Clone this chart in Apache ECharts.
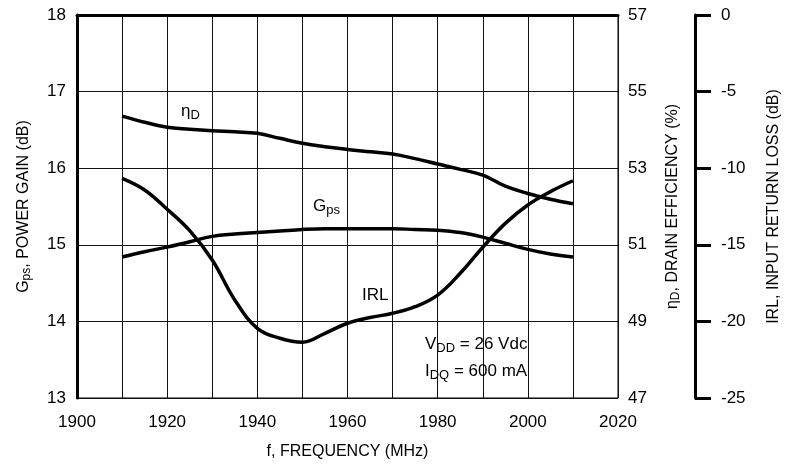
<!DOCTYPE html>
<html>
<head>
<meta charset="utf-8">
<script src="https://cdn.jsdelivr.net/npm/echarts@6/dist/echarts.min.js"></script>
<style>
  html, body { margin: 0; padding: 0; background: #fff; }
  #chart { width: 790px; height: 470px; }
</style>
</head>
<body>
<div id="chart"></div>
<script>
'use strict';

// frequency points (MHz)
const freq = [1910, 1915, 1920, 1925, 1930, 1935, 1940, 1945, 1950, 1955, 1960, 1965,
    1970, 1975, 1980, 1985, 1990, 1995, 2000, 2005, 2010];

// G_ps, power gain (dB)
const gps = [14.84, 14.91, 14.97, 15.04, 15.11, 15.14, 15.16, 15.18, 15.20, 15.21, 15.21, 15.21,
    15.21, 15.20, 15.19, 15.16, 15.10, 15.02, 14.94, 14.88, 14.84];

// eta_D, drain efficiency (%)
const eff = [54.36, 54.20, 54.07, 54.02, 53.98, 53.95, 53.91, 53.78, 53.65, 53.56, 53.49, 53.43,
    53.37, 53.25, 53.11, 52.97, 52.82, 52.53, 52.34, 52.19, 52.07];

// IRL, input return loss (dB)
const irl = [-10.66, -11.42, -12.68, -14.08, -15.99, -18.60, -20.45, -21.10, -21.36, -20.78, -20.12, -19.75,
    -19.47, -19.04, -18.28, -16.86, -15.16, -13.60, -12.40, -11.53, -10.82];

const FONT = '"Liberation Sans", Arial, Helvetica, sans-serif';

const pair = (xs, ys) => xs.map((x, i) => [x, ys[i]]);

// rich styles for text with subscripts
const subRich = size => ({
    a: { fontFamily: FONT, fontSize: size, color: '#000' },
    s: { fontFamily: FONT, fontSize: Math.round(size * 0.75), color: '#000', verticalAlign: 'bottom', padding: [7, 0, 0, 0] }
});

const lineSeries = (name, data, yAxisIndex) => ({
    name, type: 'line', yAxisIndex,
    data, smooth: 0.4, symbol: 'none',
    lineStyle: { color: '#000', width: 3.5 }
});

const chart = echarts.init(document.getElementById('chart'));

chart.setOption({
    animation: false,
    backgroundColor: '#fff',
    textStyle: { fontFamily: FONT },
    grid: {
        left: 77, right: 166, top: 15, bottom: 72,
        show: true, borderColor: '#000', borderWidth: 1
    },
    xAxis: {
        type: 'value', min: 1900, max: 2020, interval: 10,
        name: 'f, FREQUENCY (MHz)', nameLocation: 'middle', nameGap: 46,
        nameTextStyle: { fontFamily: FONT, fontSize: 16, color: '#000' },
        axisLine: { lineStyle: { color: '#000', width: 3 } },
        axisTick: { show: false },
        axisLabel: {
            fontFamily: FONT, fontSize: 17, color: '#000', margin: 16,
            formatter: v => (v % 20 === 0 ? String(v) : '')
        },
        splitLine: { lineStyle: { color: '#111', width: 1 } }
    },
    yAxis: [{
        type: 'value', min: 13, max: 18, interval: 1, position: 'left',
        name: '{a|G}{s|ps}{a|, POWER GAIN (dB)}', nameLocation: 'middle', nameGap: 44, nameRotate: 90,
        nameTextStyle: { rich: subRich(16) },
        axisLine: { show: true, lineStyle: { color: '#000', width: 3 } },
        axisTick: { show: false },
        axisLabel: { fontFamily: FONT, fontSize: 17, color: '#000', margin: 11 },
        splitLine: { lineStyle: { color: '#111', width: 1 } }
    }, {
        type: 'value', min: 47, max: 57, interval: 2, position: 'right',
        name: '{a|η}{s|D}{a|, DRAIN EFFICIENCY (%)}', nameLocation: 'middle', nameGap: 45, nameRotate: 90,
        nameTextStyle: { rich: subRich(16) },
        axisLine: { show: false },
        axisTick: { show: false },
        axisLabel: { fontFamily: FONT, fontSize: 17, color: '#000', margin: 10 },
        splitLine: { show: false }
    }, {
        type: 'value', min: -25, max: 0, interval: 5, position: 'right', offset: 77,
        name: 'IRL, INPUT RETURN LOSS (dB)', nameLocation: 'middle', nameGap: 71, nameRotate: 90,
        nameTextStyle: { fontFamily: FONT, fontSize: 16, color: '#000' },
        axisLine: { show: true, lineStyle: { color: '#000', width: 3 } },
        axisTick: { show: true, length: 16, lineStyle: { color: '#000', width: 3 } },
        axisLabel: { fontFamily: FONT, fontSize: 17, color: '#000', margin: 26 },
        splitLine: { show: false }
    }],
    series: [
        lineSeries('Gps', pair(freq, gps), 0),
        lineSeries('ηD', pair(freq, eff), 1),
        lineSeries('IRL', pair(freq, irl), 2)
    ],
    graphic: [
        { type: 'text', left: 181, top: 103, style: { text: '{a|η}{s|D}', rich: subRich(17) } },
        { type: 'text', left: 313, top: 198, style: { text: '{a|G}{s|ps}', rich: subRich(17) } },
        { type: 'text', left: 362, top: 287, style: { text: 'IRL', font: '17px ' + FONT, fill: '#000' } },
        { type: 'text', left: 425, top: 336, style: { text: '{a|V}{s|DD}{a| = 26 Vdc}', rich: subRich(17) } },
        { type: 'text', left: 425, top: 363, style: { text: '{a|I}{s|DQ}{a| = 600 mA}', rich: subRich(17) } }
    ]
});
</script>
</body>
</html>
